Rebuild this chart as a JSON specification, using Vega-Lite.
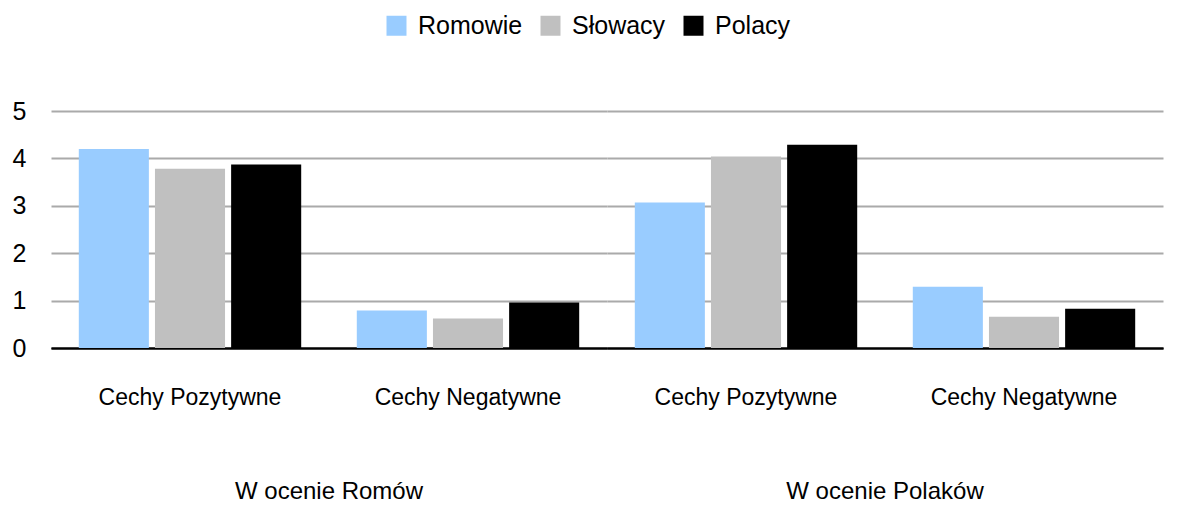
{
  "$schema": "https://vega.github.io/schema/vega-lite/v6.json",
  "background": "white",
  "padding": {"left": 12, "top": 13, "right": 5, "bottom": 5},
  "data": {
    "values": [
      {"grupa": "W ocenie Romów", "cecha": "Cechy Pozytywne", "narod": "Romowie", "wartosc": 4.20},
      {"grupa": "W ocenie Romów", "cecha": "Cechy Pozytywne", "narod": "Słowacy", "wartosc": 3.78},
      {"grupa": "W ocenie Romów", "cecha": "Cechy Pozytywne", "narod": "Polacy", "wartosc": 3.87},
      {"grupa": "W ocenie Romów", "cecha": "Cechy Negatywne", "narod": "Romowie", "wartosc": 0.79},
      {"grupa": "W ocenie Romów", "cecha": "Cechy Negatywne", "narod": "Słowacy", "wartosc": 0.62},
      {"grupa": "W ocenie Romów", "cecha": "Cechy Negatywne", "narod": "Polacy", "wartosc": 0.96},
      {"grupa": "W ocenie Polaków", "cecha": "Cechy Pozytywne", "narod": "Romowie", "wartosc": 3.07},
      {"grupa": "W ocenie Polaków", "cecha": "Cechy Pozytywne", "narod": "Słowacy", "wartosc": 4.04},
      {"grupa": "W ocenie Polaków", "cecha": "Cechy Pozytywne", "narod": "Polacy", "wartosc": 4.29},
      {"grupa": "W ocenie Polaków", "cecha": "Cechy Negatywne", "narod": "Romowie", "wartosc": 1.29},
      {"grupa": "W ocenie Polaków", "cecha": "Cechy Negatywne", "narod": "Słowacy", "wartosc": 0.66},
      {"grupa": "W ocenie Polaków", "cecha": "Cechy Negatywne", "narod": "Polacy", "wartosc": 0.83}
    ]
  },
  "facet": {
    "column": {
      "field": "grupa",
      "type": "nominal",
      "sort": ["W ocenie Romów", "W ocenie Polaków"],
      "title": null,
      "header": {
        "labelOrient": "bottom",
        "labelFontSize": 24,
        "labelFont": "Liberation Sans, Arial, sans-serif",
        "labelColor": "#000000",
        "labelLimit": 0,
        "labelPadding": 71
      }
    }
  },
  "spacing": 0,
  "spec": {
    "width": 556,
    "height": 237,
    "mark": {"type": "bar"},
    "encoding": {
      "x": {
        "field": "cecha",
        "type": "nominal",
        "sort": ["Cechy Pozytywne", "Cechy Negatywne"],
        "title": null,
        "scale": {"paddingInner": 0.2, "paddingOuter": 0.1},
        "axis": {
          "labelAngle": 0,
          "ticks": false,
          "labelPadding": 38,
          "labelFontSize": 23,
          "labelLimit": 0,
          "labelFont": "Liberation Sans, Arial, sans-serif",
          "labelColor": "#000000",
          "domainColor": "#000000",
          "domainWidth": 2,
          "grid": false
        }
      },
      "xOffset": {
        "field": "narod",
        "type": "nominal",
        "sort": ["Romowie", "Słowacy", "Polacy"],
        "scale": {"paddingInner": 0.08, "paddingOuter": 0}
      },
      "y": {
        "field": "wartosc",
        "type": "quantitative",
        "title": null,
        "scale": {"domain": [0, 5]},
        "axis": {
          "values": [0, 1, 2, 3, 4, 5],
          "ticks": false,
          "domain": false,
          "labelPadding": 25,
          "labelFontSize": 25,
          "labelFont": "Liberation Sans, Arial, sans-serif",
          "labelColor": "#000000",
          "gridColor": {"condition": {"test": "datum.value === 0", "value": "#000000"}, "value": "#aaaaaa"},
          "gridWidth": 2
        }
      },
      "color": {
        "field": "narod",
        "type": "nominal",
        "sort": ["Romowie", "Słowacy", "Polacy"],
        "scale": {"domain": ["Romowie", "Słowacy", "Polacy"], "range": ["#99ccff", "#c0c0c0", "#000000"]},
        "legend": {
          "orient": "top",
          "direction": "horizontal",
          "title": null,
          "symbolType": "square",
          "symbolSize": 400,
          "symbolStrokeWidth": 0,
          "labelFontSize": 25,
          "labelFont": "Liberation Sans, Arial, sans-serif",
          "labelColor": "#000000",
          "labelOffset": 9,
          "columnPadding": 15,
          "offset": 60
        }
      }
    }
  },
  "config": {
    "view": {"stroke": null},
    "legend": {"layout": {"top": {"anchor": "middle"}}}
  }
}
